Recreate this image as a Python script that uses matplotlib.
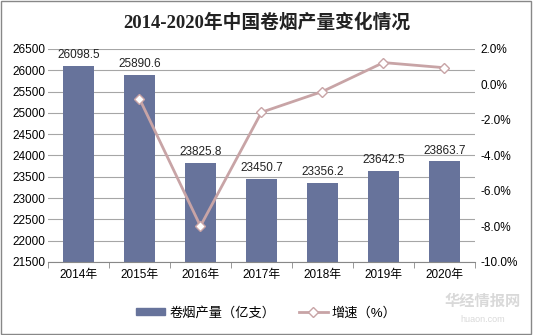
import matplotlib.pyplot as plt
from matplotlib.ticker import FuncFormatter
import numpy as np

plt.rcParams['font.family'] = ['Liberation Sans', 'Noto Sans CJK SC', 'DejaVu Sans']

years = ['2014年', '2015年', '2016年', '2017年', '2018年', '2019年', '2020年']
output = [26098.5, 25890.6, 23825.8, 23450.7, 23356.2, 23642.5, 23863.7]
growth = [None, -0.80, -7.98, -1.57, -0.40, 1.23, 0.94]

bar_color = '#67739B'
line_color = '#C8A4A6'
grid_color = '#A6A6A6'

fig = plt.figure(figsize=(5.33, 3.35), dpi=100)
ax = fig.add_axes([0.090, 0.218, 0.801, 0.636])
x = np.arange(len(years))

ax.bar(x, output, width=0.52, color=bar_color, zorder=2)
ax.set_ylim(21500, 26500)
ax.set_yticks(np.arange(21500, 26501, 500))
ax.set_xlim(-0.5, len(years) - 0.5)
ax.yaxis.grid(True, color=grid_color, linewidth=0.8)
ax.set_axisbelow(True)
for s in ['top', 'right', 'left']:
    ax.spines[s].set_visible(False)
ax.spines['bottom'].set_color('#888888')
ax.tick_params(axis='y', length=0, labelsize=8.5, pad=2)
ax.set_xticks(x)
ax.set_xticklabels(years, fontsize=8.5)
ax.tick_params(axis='x', length=0, pad=5)
ax.set_xticks(np.arange(-0.5, len(years)), minor=True)
ax.tick_params(axis='x', which='minor', length=4, color='#888888')

for xi, v in zip(x, output):
    ax.text(xi, v + 110, f'{v:.1f}', ha='center', va='bottom', fontsize=8.5, color='#222222')

ax2 = ax.twinx()
gx = [xi for xi, g in zip(x, growth) if g is not None]
gy = [g for g in growth if g is not None]
ax2.plot(gx, gy, color=line_color, linewidth=2, marker='D', markersize=5,
         markerfacecolor='white', markeredgecolor=line_color, markeredgewidth=1, zorder=3)
ax2.set_ylim(-10, 2)
ax2.set_yticks(np.arange(-10, 2.1, 2))
ax2.yaxis.set_major_formatter(FuncFormatter(lambda v, p: f'{v:.1f}%'))
ax2.tick_params(axis='y', length=0, labelsize=8.5, pad=4)
for s in ['top', 'right', 'left', 'bottom']:
    ax2.spines[s].set_visible(False)

bar_handle = plt.Rectangle((0, 0), 1, 1, color=bar_color)
fig.legend([bar_handle, ax2.get_lines()[0]], ['卷烟产量（亿支）', '增速（%）'], loc='center',
           bbox_to_anchor=(0.5, 0.066), ncol=2, frameon=False, fontsize=9.5,
           handlelength=2.2, handleheight=0.35, columnspacing=1.8, handletextpad=0.3)

fig.text(0.5, 0.932, '2014-2020年中国卷烟产量变化情况', ha='center', va='center',
         fontsize=13.5, fontweight='bold', color='#222222',
         family=['Liberation Serif', 'Noto Sans CJK SC'])

fig.text(0.905, 0.10, '华经情报网', ha='center', va='center', fontsize=11,
         color='#D0D0D0', fontweight='bold', alpha=0.8)
fig.text(0.905, 0.045, 'huaon.com', ha='center', va='center', fontsize=6.5,
         color='#D0D0D0', alpha=0.8)

fig.patches.append(plt.Rectangle((0.002, 0.003), 0.995, 0.994, transform=fig.transFigure,
                                 fill=False, edgecolor='#888888', linewidth=1))

fig.savefig('out.png', dpi=100)
